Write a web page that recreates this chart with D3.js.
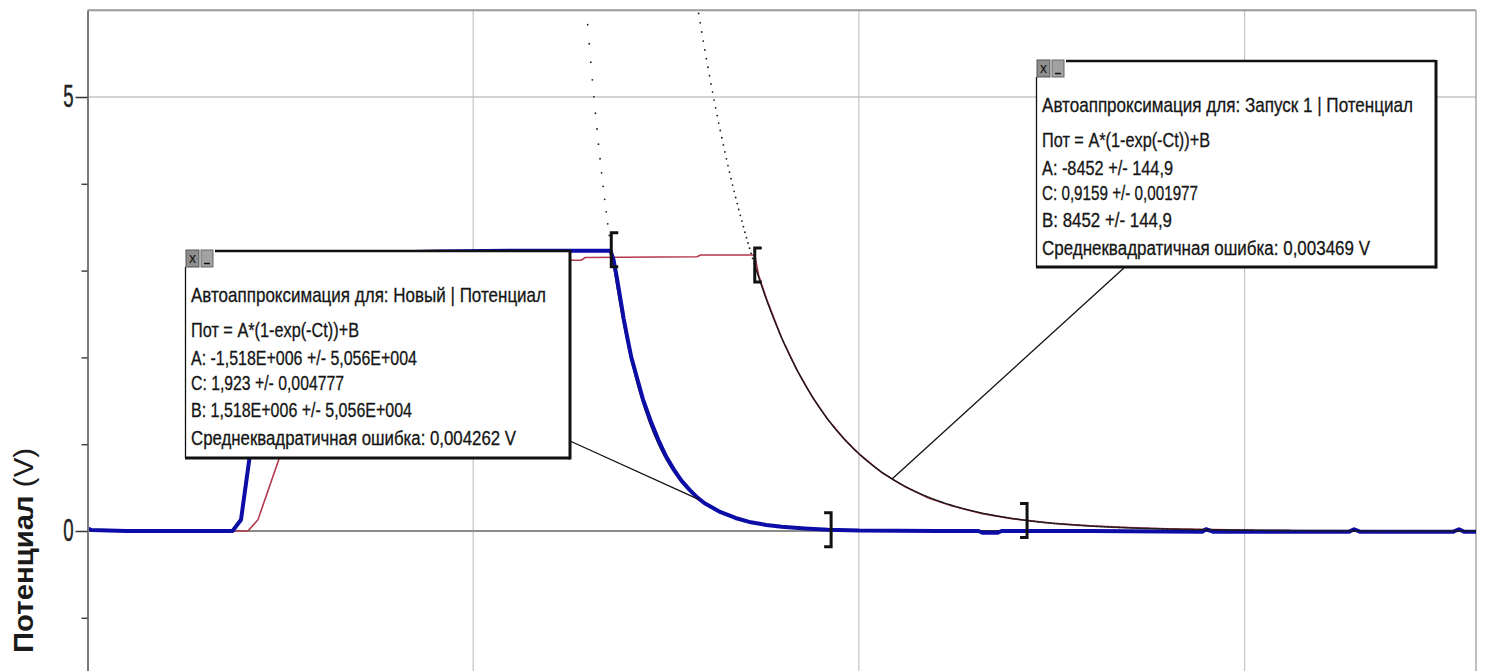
<!DOCTYPE html>
<html lang="ru">
<head>
<meta charset="UTF-8">
<title>Автоаппроксимация</title>
<script src="https://cdn.jsdelivr.net/npm/d3@7/dist/d3.min.js"></script>
<style>
  body { margin: 0; background: #fff; }
  text { font-family: "Liberation Sans", Arial, sans-serif; }
</style>
</head>
<body>
<svg width="1499" height="671" id="mainsvg"></svg>
<script>
// measured series, time (s) and potential (V)
const newTime = [0, 0.05, 0.5, 1.0, 1.5, 1.88, 1.99, 2.1, 2.2, 2.35, 2.5, 2.75, 3.0, 3.5, 4.5, 5.5, 6.5, 6.78,
  6.82, 6.86, 6.9, 6.95, 7.0, 7.05, 7.1, 7.2, 7.3, 7.4, 7.5, 7.6, 7.7, 7.8, 7.9, 8.0, 8.2, 8.4, 8.6, 8.8, 9.0,
  9.3, 9.6, 10.0, 11.0, 11.55, 11.6, 11.8, 11.85, 13.0, 14.45, 14.5, 14.6, 16.35, 16.42, 16.5, 17.7, 17.78, 17.85, 18.0];
const newVolt = [0.03, 0.01, 0, 0, 0, 0, 0.13, 0.84, 1.65, 2.35, 2.75, 3.02, 3.14, 3.2, 3.22, 3.23, 3.23, 3.23,
  3.12, 2.93, 2.72, 2.45, 2.22, 2.0, 1.84, 1.52, 1.27, 1.05, 0.86, 0.71, 0.58, 0.48, 0.39, 0.32, 0.22, 0.15, 0.1, 0.07, 0.05,
  0.03, 0.015, 0.005, 0, 0, -0.02, -0.02, 0, 0, -0.01, 0.02, -0.01, -0.01, 0.02, -0.01, -0.01, 0.02, -0.01, -0.01];

const runTime = [0, 2.08, 2.21, 2.49, 2.7, 3.0, 3.4, 4.0, 5.0, 6.2, 6.4, 6.45, 7.9, 7.95, 8.65, 8.7, 8.8, 9.0, 9.2,
  9.4, 9.6, 9.8, 10.0, 10.3, 10.6, 10.9, 11.2, 11.6, 12.0, 12.5, 13.0, 13.5, 14.0, 15.0, 16.0, 18.0];
const runVolt = [0, 0, 0.13, 0.85, 1.55, 2.25, 2.75, 3.0, 3.08, 3.12, 3.12, 3.15, 3.16, 3.18, 3.18, 2.95, 2.68, 2.22, 1.85,
  1.54, 1.28, 1.07, 0.89, 0.67, 0.51, 0.38, 0.29, 0.2, 0.14, 0.09, 0.06, 0.04, 0.025, 0.01, 0, 0];

// fit results: Пот = A*(1-exp(-Ct))+B
const fitNames = ['Новый', 'Запуск 1'];
const fitA = [-1.518e6, -8452];
const fitB = [1.518e6, 8452];
const fitC = [1.923, 0.9159];
const fitFrom = [6.79, 8.65];
const fitTo = [9.64, 12.18];
const fitPick = [7.93, 10.43];
const fitTextA = ['-1,518E+006 +/- 5,056E+004', '-8452 +/- 144,9'];
const fitTextC = ['1,923 +/- 0,004777', '0,9159 +/- 0,001977'];
const fitTextB = ['1,518E+006 +/- 5,056E+004', '8452 +/- 144,9'];
const fitRmse = ['0,004262 V', '0,003469 V'];

const yMajor = [0, 5];
const yMinor = [-1, 1, 2, 3, 4];
const xGrid = [5, 10, 15];
const yGrid = [5];

const svg = d3.select('#mainsvg');
const x = d3.scaleLinear().domain([0, 18]).range([87.5, 1476]);
const y = d3.scaleLinear().domain([-1.62, 6]).range([671.6, 10.2]);

svg.append('defs').append('clipPath').attr('id', 'plotclip')
  .append('rect').attr('x', x(0)).attr('y', y(6)).attr('width', x(18) - x(0)).attr('height', y(-1.62) - y(6));

// grid
svg.selectAll('.vgrid').data(xGrid).enter().append('line')
  .attr('x1', d => x(d)).attr('x2', d => x(d)).attr('y1', y(6)).attr('y2', y(-1.62))
  .attr('stroke', '#c4c4c4').attr('stroke-width', 1.2);
svg.selectAll('.hgrid').data(yGrid).enter().append('line')
  .attr('x1', x(0)).attr('x2', x(18)).attr('y1', d => y(d)).attr('y2', d => y(d))
  .attr('stroke', '#c4c4c4').attr('stroke-width', 1.5);
svg.append('line').attr('x1', x(0)).attr('x2', x(18)).attr('y1', y(0)).attr('y2', y(0))
  .attr('stroke', '#8c8c8c').attr('stroke-width', 2);
svg.append('line').attr('x1', x(0)).attr('x2', x(18)).attr('y1', y(6)).attr('y2', y(6))
  .attr('stroke', '#9a9a9a').attr('stroke-width', 2);
svg.append('line').attr('x1', x(18)).attr('x2', x(18)).attr('y1', y(6)).attr('y2', y(-1.62))
  .attr('stroke', '#a8a8a8').attr('stroke-width', 1.5);

const plot = svg.append('g').attr('clip-path', 'url(#plotclip)');
const line = d3.line().x(d => x(d[0])).y(d => y(d[1]));

function fitValue(i, t) {
  return fitA[i] * (1 - Math.exp(-fitC[i] * t)) + fitB[i];
}

function drawFit(i) {
  const pts = d3.range(fitFrom[i], fitTo[i], 0.01).concat([fitTo[i]]).map(t => [t, fitValue(i, t)]);
  plot.append('path').datum(pts).attr('d', line)
    .attr('fill', 'none').attr('stroke', '#1a1a1a').attr('stroke-width', 1.4);
  const tTop = Math.log(-fitA[i] / 6.3) / fitC[i];
  const dots = d3.range(tTop, fitFrom[i], 0.02).concat(d3.range(fitTo[i] + 0.02, 18, 0.02));
  plot.selectAll('.dot' + i).data(dots).enter().append('circle')
    .attr('cx', t => x(t)).attr('cy', t => y(fitValue(i, t))).attr('r', 0.9).attr('fill', '#1a1a1a');
}

// Запуск 1 data (thin red)
plot.append('path').datum(d3.zip(runTime, runVolt)).attr('d', line)
  .attr('fill', 'none').attr('stroke', '#b3394c').attr('stroke-width', 1.6);
drawFit(0);
// Новый data (thick blue)
plot.append('path').datum(d3.zip(newTime, newVolt)).attr('d', line)
  .attr('fill', 'none').attr('stroke', '#0c0ca6').attr('stroke-width', 4).attr('stroke-linejoin', 'round');
drawFit(1);

// range brackets
fitNames.forEach((n, i) => {
  [fitFrom[i], fitTo[i]].forEach((t, k) => {
    const bx = x(t), by = y(fitValue(i, t));
    const dir = k === 0 ? 1 : -1;
    svg.append('path')
      .attr('d', `M${bx + dir * 7},${by - 17} H${bx} V${by + 17} H${bx + dir * 7}`)
      .attr('fill', 'none').attr('stroke', '#111').attr('stroke-width', 3);
  });
});

// y axis
const ax = svg.append('g').attr('transform', `translate(${x(0)},0)`)
  .call(d3.axisLeft(y).tickValues(yMajor).tickSize(12).tickSizeOuter(0).tickPadding(2))
  .attr('font-family', '"Liberation Sans", Arial, sans-serif').attr('font-size', 31);
ax.select('.domain').attr('stroke', '#7a7a7a').attr('stroke-width', 2);
ax.selectAll('.tick line').attr('stroke', '#333').attr('stroke-width', 1.5);
ax.selectAll('.tick text').attr('fill', '#222').attr('stroke', '#222').attr('stroke-width', 0.5)
  .attr('transform', 'scale(0.6,1)').attr('x', -14 / 0.6);
const axm = svg.append('g').attr('transform', `translate(${x(0)},0)`)
  .call(d3.axisLeft(y).tickValues(yMinor).tickSize(6).tickFormat(''));
axm.select('.domain').remove();
axm.selectAll('.tick line').attr('stroke', '#444').attr('stroke-width', 1.5);

const yl = svg.append('text').attr('transform', 'translate(33,653) rotate(-90)')
  .attr('font-size', 28).attr('fill', '#1a1a1a')
  .attr('textLength', 205).attr('lengthAdjust', 'spacingAndGlyphs');
yl.append('tspan').attr('font-weight', 'bold').text('Потенциал');
yl.append('tspan').text(' (V)');

// annotation boxes
const boxes = [
  { x: 185, y: 250, w: 385, h: 208, from: [570, 441], widths: [355, 168, 226, 153, 221, 325] },
  { x: 1036, y: 60, w: 400, h: 207, from: [1125, 267], widths: [371, 168, 131, 156, 130, 328] }
];
const baselines = [52, 87, 115, 140, 167, 195];

boxes.forEach((b, i) => {
  svg.append('line')
    .attr('x1', b.from[0]).attr('y1', b.from[1])
    .attr('x2', x(fitPick[i])).attr('y2', y(fitValue(i, fitPick[i])))
    .attr('stroke', '#111').attr('stroke-width', 1.3);

  const gb = svg.append('g');
  gb.append('rect').attr('x', b.x).attr('y', b.y).attr('width', b.w).attr('height', b.h).attr('fill', '#fff');
  gb.append('line').attr('x1', b.x + 30).attr('x2', b.x + b.w).attr('y1', b.y + 1).attr('y2', b.y + 1)
    .attr('stroke', '#111').attr('stroke-width', 2.5);
  gb.append('line').attr('x1', b.x + b.w).attr('x2', b.x + b.w).attr('y1', b.y).attr('y2', b.y + b.h + 1.5)
    .attr('stroke', '#111').attr('stroke-width', 3);
  gb.append('line').attr('x1', b.x).attr('x2', b.x + b.w).attr('y1', b.y + b.h).attr('y2', b.y + b.h)
    .attr('stroke', '#111').attr('stroke-width', 3);
  gb.append('line').attr('x1', b.x + 0.5).attr('x2', b.x + 0.5).attr('y1', b.y + 17).attr('y2', b.y + b.h)
    .attr('stroke', '#111').attr('stroke-width', 1.3);
  // close / minimise icons
  gb.append('rect').attr('x', b.x + 1).attr('y', b.y).attr('width', 13).attr('height', 17)
    .attr('fill', '#8e8e8e').attr('stroke', '#555').attr('stroke-width', 1);
  gb.append('text').attr('x', b.x + 7.5).attr('y', b.y + 13).attr('text-anchor', 'middle')
    .attr('font-size', 14).attr('fill', '#111').text('x');
  gb.append('rect').attr('x', b.x + 16).attr('y', b.y).attr('width', 12).attr('height', 17)
    .attr('fill', '#a2a2a2').attr('stroke', '#666').attr('stroke-width', 1);
  gb.append('line').attr('x1', b.x + 19).attr('x2', b.x + 25).attr('y1', b.y + 13.5).attr('y2', b.y + 13.5)
    .attr('stroke', '#111').attr('stroke-width', 1.5);

  const lines = [
    'Автоаппроксимация для: ' + fitNames[i] + ' | Потенциал',
    'Пот = A*(1-exp(-Ct))+B',
    'A: ' + fitTextA[i],
    'C: ' + fitTextC[i],
    'B: ' + fitTextB[i],
    'Среднеквадратичная ошибка: ' + fitRmse[i]
  ];
  gb.selectAll('.ln').data(lines).enter().append('text')
    .attr('x', b.x + 6).attr('y', (d, k) => b.y + baselines[k])
    .attr('font-size', (d, k) => k === 0 ? 21 : 20).attr('fill', '#151515')
    .attr('stroke', '#151515').attr('stroke-width', 0.3)
    .attr('textLength', (d, k) => b.widths[k]).attr('lengthAdjust', 'spacingAndGlyphs')
    .text(d => d);
});
</script>
</body>
</html>
